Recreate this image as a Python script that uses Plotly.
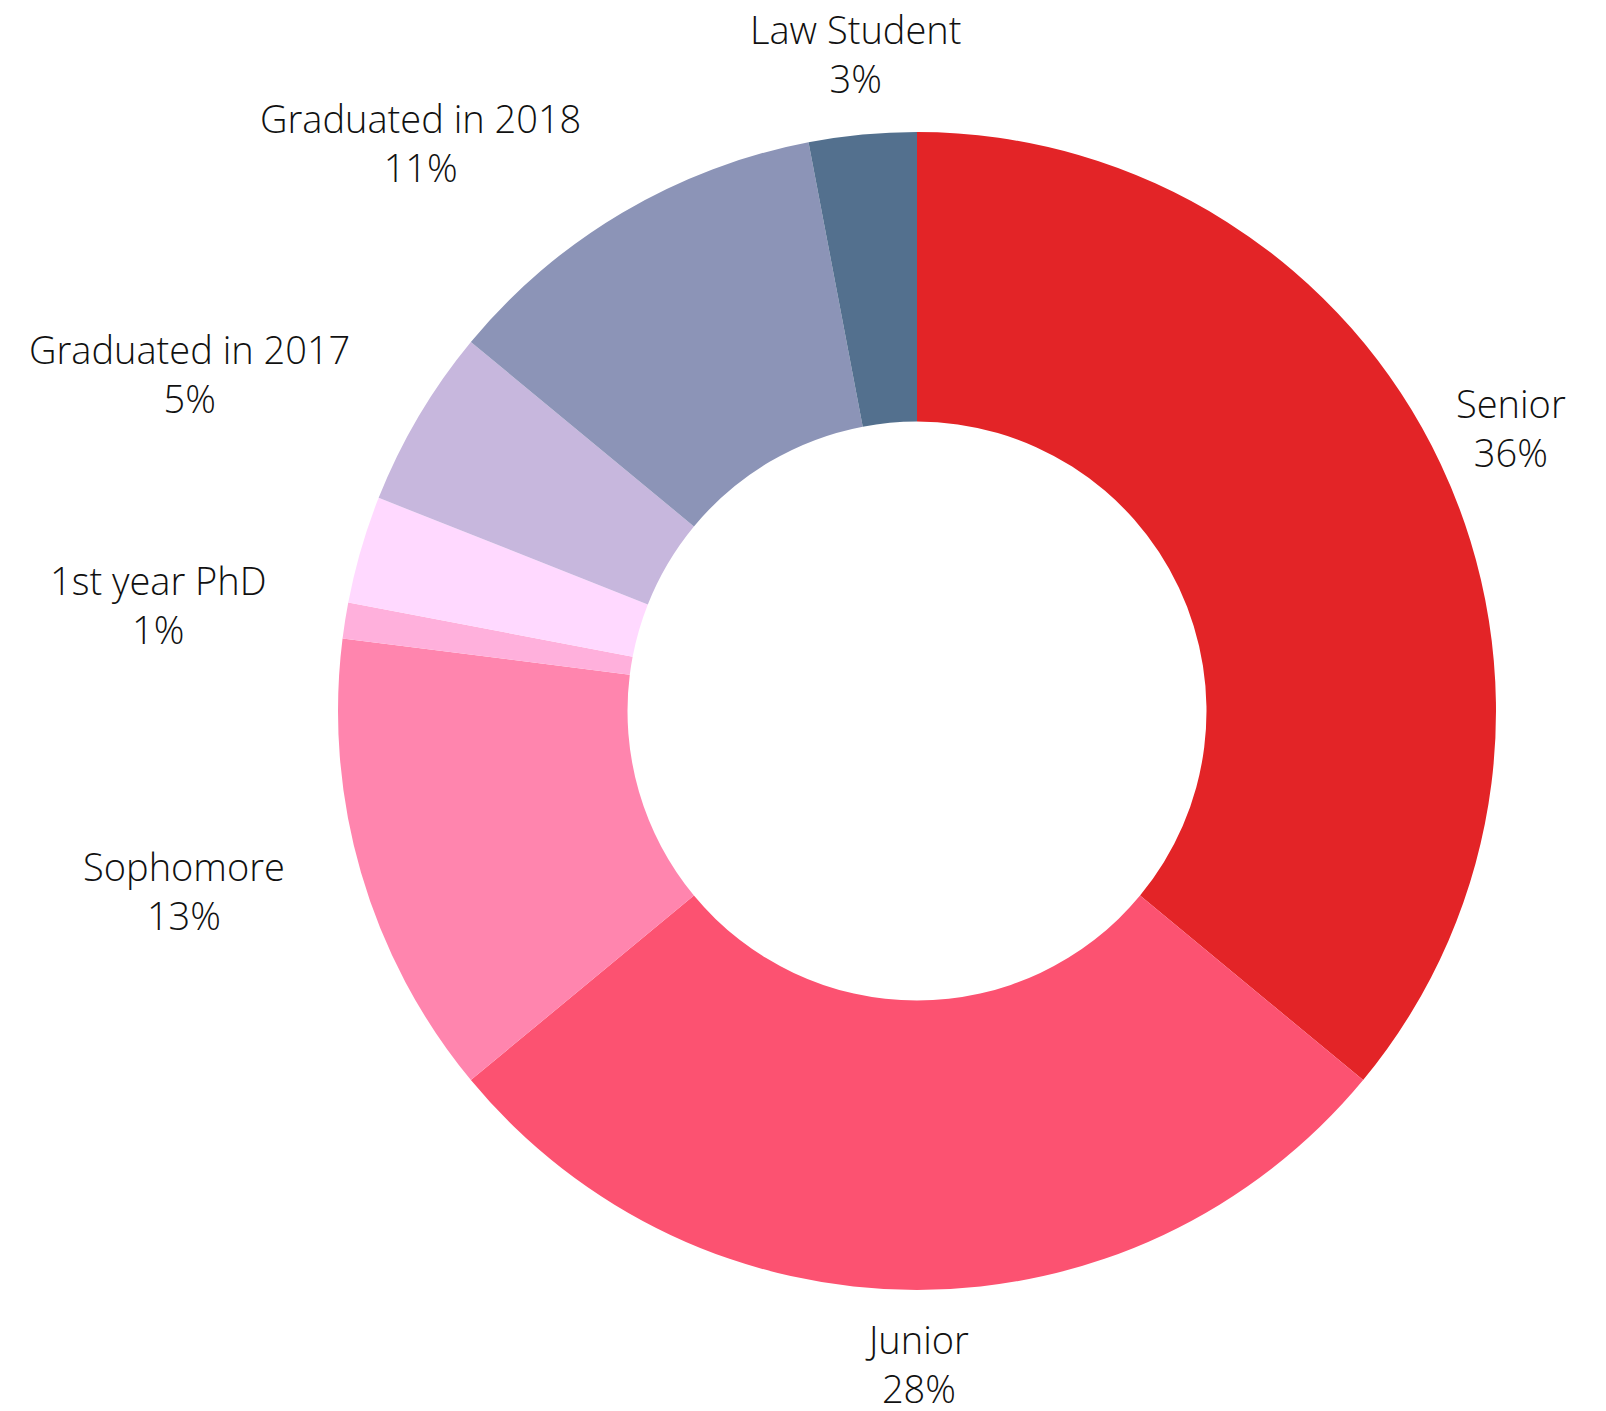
import math
import plotly.graph_objects as go

labels = ["Senior", "Junior", "Sophomore", "1st year PhD", "Other",
          "Graduated in 2017", "Graduated in 2018", "Law Student"]
values = [36, 28, 13, 1, 3, 5, 11, 3]
show_label = [True, True, True, True, False, True, True, True]
colors = ["#e32427", "#fc5271", "#ff85ae", "#ffb0dc", "#ffd9ff",
          "#c7b7dd", "#8c94b7", "#53708e"]

# page body has an 8px default margin, so the figure is drawn 8px smaller
W, H = 1598, 1403
margin = dict(l=330, r=110, t=124, b=121)
label_radius = 1.133  # relative to outer radius
font = dict(family="Open Sans", size=38, color="#111111", weight=300)

fig = go.Figure(go.Pie(
    labels=labels,
    values=values,
    textinfo="none",
    hole=0.5,
    sort=False,
    direction="clockwise",
    rotation=0,
    marker=dict(colors=colors, line=dict(width=0)),
    showlegend=False,
    hoverinfo="label+percent",
))

# label annotations placed along each slice's mid-angle
pw = W - margin["l"] - margin["r"]
ph = H - margin["t"] - margin["b"]
r_px = min(pw, ph) / 2 * label_radius
total = sum(values)
cum = 0
for lab, v, s in zip(labels, values, show_label):
    mid = (cum + v / 2) / total * 2 * math.pi
    cum += v
    if not s:
        continue
    ux, uy = math.sin(mid), math.cos(mid)
    xa = "right" if ux < -0.3 else "center"
    fig.add_annotation(
        x=0.5 + ux * r_px / pw, y=0.5 + uy * r_px / ph,
        xref="paper", yref="paper",
        text=f"{lab}<br>{round(v / total * 100)}%",
        showarrow=False, xanchor=xa, yanchor="middle", yshift=4,
        align="center", font=font,
    )

fig.update_layout(
    width=W, height=H,
    margin=margin,
    paper_bgcolor="white",
    plot_bgcolor="white",
    font=dict(family="Open Sans"),
)

fig.write_html("out.html")
